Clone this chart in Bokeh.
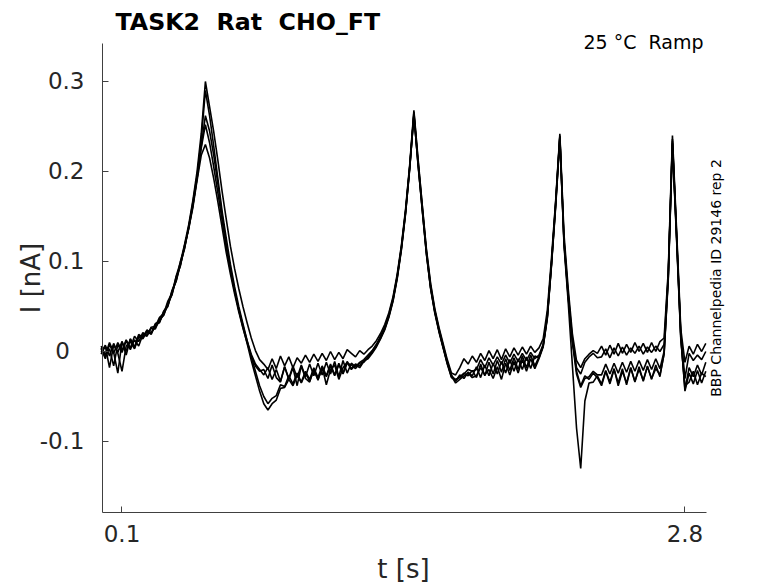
import numpy as np
from bokeh.plotting import figure
from bokeh.models import Label, FixedTicker, Range1d
from bokeh.embed import file_html
from bokeh.resources import INLINE

# Sampling of the sweeps (s)
T_START = 0.0
T_STEP = 0.02

# Current sweeps in pA, one value per sample
SWEEP_A = [3, -8, 8, -2, 10, 1, 13, 4, 17, 11,
           21, 18, 27, 28, 38, 42, 56, 65, 84, 99,
           119, 141, 168, 200, 242, 300, 272, 244, 212, 178,
           147, 117, 92, 70, 50, 32, 15, 1, -9, -14,
           -20, -8, -19, -5, -16, -6, -18, -7, -13, -4,
           -12, -3, -11, -2, -10, 0, -9, -1, -8, 2,
           -2, -6, 1, -3, 2, 6, 12, 20, 30, 43,
           61, 86, 118, 158, 208, 268, 214, 163, 114, 76,
           48, 27, 9, -9, -24, -26, -18, -8, -14, -5,
           -12, -2, -10, 1, -8, 2, -9, 3, -6, 4,
           -4, 5, -3, 6, -1, 4, 14, 46, 104, 168,
           242, 130, 70, 20, -10, -18, -8, -3, 1, -2,
           6, -4, 7, -3, 9, -2, 8, -1, 10, 0,
           9, -1, 10, 0, 11, 15, 90, 240, 135, 25,
           -12, 6, -3, 8, 0, 9]

SWEEP_B = [-3, 6, -18, 7, -1, 11, -4, 14, 5, 19,
           16, 24, 20, 31, 33, 45, 51, 68, 79, 100,
           115, 138, 166, 195, 235, 290, 262, 228, 192, 156,
           126, 97, 72, 50, 31, 12, -6, -22, -38, -50,
           -58, -52, -49, -37, -39, -27, -36, -24, -34, -22,
           -31, -18, -29, -16, -27, -14, -26, -13, -24, -11,
           -19, -14, -16, -10, -8, -2, 5, 14, 24, 38,
           56, 81, 113, 153, 203, 263, 207, 157, 108, 70,
           43, 22, 4, -14, -29, -32, -28, -25, -20, -22,
           -20, -9, -18, -7, -15, -6, -14, -4, -13, -3,
           -11, -2, -10, -1, -8, -4, 8, 40, 98, 163,
           238, 122, 62, 12, -18, -25, -12, -6, -2, -7,
           -6, 3, -7, 4, -5, 5, -4, 4, -2, 6,
           -3, 5, -1, 6, 0, 8, 86, 236, 130, 20,
           -30, -2, -10, -4, -9, 0]

SWEEP_C = [4, -5, 3, -16, 8, -1, 12, 2, 13, 6,
           19, 17, 26, 25, 36, 40, 54, 63, 83, 95,
           118, 136, 163, 192, 228, 262, 245, 218, 186, 152,
           118, 92, 68, 46, 27, 9, -10, -27, -44, -58,
           -65, -58, -54, -41, -40, -31, -38, -26, -35, -24,
           -33, -21, -31, -19, -28, -16, -27, -15, -25, -13,
           -15, -19, -13, -12, -6, -1, 6, 15, 25, 39,
           57, 82, 114, 154, 204, 264, 209, 159, 109, 71,
           44, 23, 5, -13, -28, -31, -29, -24, -27, -21,
           -29, -14, -27, -12, -25, -10, -23, -8, -21, -7,
           -20, -5, -18, -4, -16, -6, 6, 38, 96, 161,
           236, 120, 60, 10, -25, -40, -30, -28, -22, -26,
           -26, -14, -25, -13, -24, -12, -23, -11, -22, -10,
           -21, -9, -20, -8, -19, 0, 82, 232, 126, 16,
           -42, -18, -28, -15, -26, -12]

SWEEP_D = [-1, 7, -5, 9, -2, -22, 6, 11, 3, 16,
           15, 22, 19, 30, 32, 44, 50, 67, 78, 97,
           114, 139, 162, 193, 226, 252, 232, 205, 176, 146,
           116, 90, 67, 47, 29, 12, -3, -14, -20, -26,
           -18, -31, -20, -33, -17, -30, -16, -29, -15, -28,
           -14, -27, -13, -26, -12, -25, -11, -28, -10, -24,
           -13, -17, -12, -9, -4, 1, 8, 17, 27, 41,
           59, 84, 116, 156, 206, 266, 212, 162, 112, 74,
           46, 25, 7, -11, -26, -33, -26, -30, -23, -27,
           -17, -29, -15, -27, -13, -25, -11, -24, -9, -22,
           -8, -20, -6, -19, -5, -7, 7, 39, 99, 166,
           240, 124, 64, 14, -22, -38, -27, -31, -24, -29,
           -38, -22, -36, -20, -35, -19, -37, -18, -34, -17,
           -33, -16, -31, -15, -28, -2, 84, 234, 128, 18,
           -44, -24, -36, -21, -35, -22]

SWEEP_E = [6, -4, 10, -1, -24, 11, 0, 14, 4, 17,
           14, 23, 21, 27, 34, 41, 52, 64, 80, 96,
           116, 137, 160, 190, 218, 230, 215, 192, 166, 138,
           110, 86, 64, 44, 26, 10, -5, -16, -22, -20,
           -30, -15, -29, -34, -17, -31, -18, -38, -16, -30,
           -34, -19, -32, -17, -37, -20, -15, -31, -18, -12,
           -20, -15, -18, -11, -7, 0, 7, 15, 26, 40,
           58, 83, 115, 155, 205, 262, 208, 158, 110, 71,
           45, 24, 5, -12, -27, -35, -31, -27, -24, -29,
           -27, -18, -26, -20, -30, -17, -31, -13, -26, -11,
           -24, -9, -22, -8, -19, -8, 5, 37, 97, 164,
           239, 118, 55, -15, -85, -130, -55, -35, -34, -27,
           -36, -21, -34, -19, -38, -22, -35, -18, -33, -20,
           -32, -17, -30, -19, -26, -3, 80, 230, 124, 14,
           -38, -34, -22, -37, -24, -28]

SWEEPS = [SWEEP_A, SWEEP_B, SWEEP_C, SWEEP_D, SWEEP_E]

X_TICKS = [0.1, 2.8]
X_TICK_LABELS = ["0.1", "2.8"]
Y_TICKS = [-0.1, 0, 0.1, 0.2, 0.3]
Y_TICK_LABELS = ["-0.1", "0\u2007", "0.1", "0.2", "0.3"]

# visible spines (data units) and the data window covering the whole canvas
X_AXIS_SPAN = (0.0065, 2.9035)
Y_AXIS_SPAN = (-0.1789, 0.3422)
X_VIEW = (-0.48273, 3.24868)
Y_VIEW = (-0.25778, 0.39)

TITLE = "TASK2\u00a0 Rat\u00a0 CHO_FT"
CONDITION = "25 °C\u00a0 Ramp"
SOURCE = "BBP Channelpedia ID 29146 rep 2"
X_LABEL = "t [s]"
Y_LABEL = "I [nA]"

FONT = "DejaVu Sans"
INK = "#262626"

p = figure(width=778, height=583, output_backend="svg", toolbar_location=None,
           x_range=Range1d(*X_VIEW), y_range=Range1d(*Y_VIEW),
           min_border_left=0, min_border_right=0, min_border_top=0,
           min_border_bottom=0)
p.outline_line_color = None
p.grid.visible = False
p.background_fill_color = "white"
p.border_fill_color = "white"

for sw in SWEEPS:
    t = T_START + T_STEP * np.arange(len(sw))
    p.line(t, np.array(sw) / 1000.0, line_color="black", line_width=1.6)

p.xaxis.ticker = FixedTicker(ticks=X_TICKS)
p.xaxis.major_label_overrides = dict(zip(X_TICKS, X_TICK_LABELS))
p.yaxis.ticker = FixedTicker(ticks=Y_TICKS)
p.yaxis.major_label_overrides = dict(zip(Y_TICKS, Y_TICK_LABELS))
p.xaxis.bounds = X_AXIS_SPAN
p.yaxis.bounds = Y_AXIS_SPAN
p.xaxis.fixed_location = Y_AXIS_SPAN[0]
p.yaxis.fixed_location = X_AXIS_SPAN[0]

for ax in (p.xaxis, p.yaxis):
    ax.axis_line_color = "#404040"
    ax.major_tick_line_color = "#404040"
    ax.major_tick_in = 6
    ax.major_tick_out = 0
    ax.minor_tick_line_color = None
    ax.major_label_text_font = FONT
    ax.major_label_text_font_size = "23px"
    ax.major_label_text_color = INK
p.xaxis.major_label_standoff = 12
p.yaxis.major_label_standoff = 18

p.add_layout(Label(x=1.45012, y=-0.2422, text=X_LABEL, text_font=FONT,
                   text_font_size="26px", text_align="center",
                   text_baseline="alphabetic", text_color=INK))
p.add_layout(Label(x=-0.33501, y=0.08167, text=Y_LABEL, text_font=FONT,
                   text_font_size="26px", text_align="center",
                   text_baseline="alphabetic", angle=np.pi / 2, text_color=INK))
p.add_layout(Label(x=0.06882, y=0.3656, text=TITLE, text_font=FONT,
                   text_font_style="bold", text_font_size="23.7px",
                   text_baseline="alphabetic", text_color="black"))
p.add_layout(Label(x=2.889, y=0.3439, text=CONDITION, text_font=FONT,
                   text_font_size="19px", text_align="right",
                   text_baseline="alphabetic", text_color="black"))
p.add_layout(Label(x=2.9513, y=0.0817, text=SOURCE, text_font=FONT,
                   text_font_size="14px", text_align="center",
                   text_baseline="middle", angle=np.pi / 2, text_color="black"))

open("out.html", "w").write(file_html(p, INLINE))
